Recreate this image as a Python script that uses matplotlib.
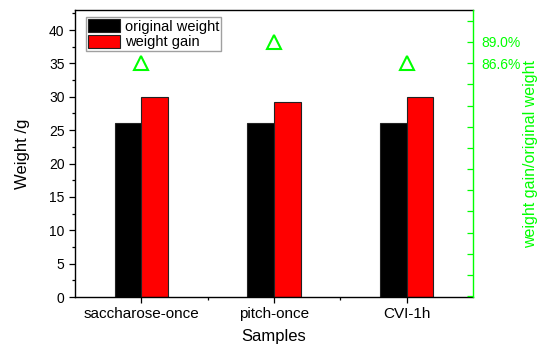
import numpy as np
import matplotlib.pyplot as plt
from matplotlib.ticker import MultipleLocator, FixedLocator

plt.rcParams["font.family"] = ["Liberation Sans", "DejaVu Sans"]

# ── Data ──────────────────────────────────────────────────────────────────────
samples = ["saccharose-once", "pitch-once", "CVI-1h"]
original_weight = [26.0, 26.0, 26.0]
weight_gain = [30.0, 29.2, 30.0]
ratio = [86.6, 89.0, 86.6]          # weight gain / original weight, %
ratio_labels = ["86.6%", "89.0%"]

green = "#00ff00"

# ── Plot ──────────────────────────────────────────────────────────────────────
fig = plt.figure(figsize=(5.37, 3.46), dpi=100)
ax = fig.add_axes([0.1397, 0.1416, 0.7411, 0.8295])

x = np.arange(1, len(samples) + 1)
w = 0.2
ax.bar(x - w / 2, original_weight, w, color="black", edgecolor="#222222",
       linewidth=0.8, label="original weight")
ax.bar(x + w / 2, weight_gain, w, color="#ff0000", edgecolor="#222222",
       linewidth=0.8, label="weight gain")

ax.set_xlim(0.5, 3.5)
ax.set_ylim(0, 43)
ax.set_xticks(x)
ax.set_xticklabels(samples)
ax.xaxis.set_minor_locator(FixedLocator([1.5, 2.5]))
ax.yaxis.set_major_locator(MultipleLocator(5))
ax.yaxis.set_minor_locator(MultipleLocator(2.5))
ax.tick_params(axis="both", which="major", direction="out", length=4,
               width=0.9, labelsize=10)
ax.tick_params(axis="both", which="minor", direction="out", length=2.5,
               width=0.9)
ax.tick_params(axis="x", which="major", labelsize=11, pad=3)
ax.set_xlabel("Samples", fontsize=12, labelpad=6)
ax.set_ylabel("Weight /g", fontsize=12, labelpad=14)
for s in ["left", "bottom", "top"]:
    ax.spines[s].set_linewidth(1.0)
ax.spines["right"].set_visible(False)

ax.legend(loc="upper left", bbox_to_anchor=(0.02, 0.985), fontsize=10.5,
          frameon=True, fancybox=False, edgecolor="#888888",
          handlelength=2.2, handleheight=1.0, handletextpad=0.3,
          borderpad=0.15, labelspacing=0.05, borderaxespad=0.2)

# right axis: ratio
ax2 = ax.twinx()
per_px = 2.4 / 21.2
ax2.set_ylim(86.6 - 234 * per_px, 89.0 + 32 * per_px)
ax2.plot(x, ratio, linestyle="none", marker="^", markersize=10,
         markerfacecolor="none", markeredgecolor=green, markeredgewidth=1.5)
ticks = [86.6 + 2.4 * k for k in range(-11, 3)]
ax2.yaxis.set_major_locator(FixedLocator(ticks))
ax2.set_yticklabels([lab if lab in ratio_labels else ""
                     for lab in [f"{t:.1f}%" for t in ticks]])
ax2.tick_params(axis="y", direction="in", length=4, width=0.9, colors=green,
                labelsize=10, pad=6)
ax2.spines["right"].set_color(green)
ax2.spines["right"].set_linewidth(1.0)
for s in ["left", "bottom", "top"]:
    ax2.spines[s].set_visible(False)
ax2.set_ylabel("weight gain/original weight", color=green, fontsize=11.5,
               labelpad=2)

plt.savefig("out.png", dpi=100)
